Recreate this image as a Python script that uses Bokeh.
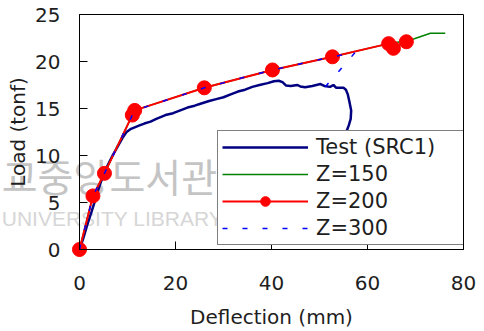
from bokeh.plotting import figure
from bokeh.models import Range1d, Legend, LegendItem, FixedTicker
from bokeh.core.properties import value
from bokeh.embed import file_html
from bokeh.resources import INLINE

# Measured load-deflection response of specimen SRC1
test_x = [0, 0.8, 1.6, 2.5, 3.3, 4.2, 5.0, 6.0, 7.0, 8.0, 9.0, 9.8, 10.6, 11.5,
          12.5, 13.5, 14.8, 16.0, 17.9, 19.5, 21.0, 22.5, 24.0, 25.2, 27.0, 28.5,
          30.0, 31.5, 33.0, 34.5, 36.0, 37.5, 39.2, 40.5, 41.5, 42.3, 43.0, 44.0,
          45.4, 46.0, 47.0, 48.5, 50.2, 51.0, 52.2, 52.9, 53.5, 55.0, 55.5, 55.9,
          56.2, 56.6, 56.5, 56.1, 55.5, 54.8, 54.2, 53.6]
test_y = [0, 1.2, 2.6, 4.0, 5.3, 6.8, 8.0, 9.1, 10.1, 11.0, 11.9, 12.5, 12.8, 13.0,
          13.2, 13.4, 13.6, 13.9, 14.3, 14.5, 14.8, 15.1, 15.3, 15.5, 15.8, 16.0,
          16.2, 16.5, 16.8, 17.0, 17.3, 17.5, 17.7, 17.9, 17.95, 17.8, 17.45, 17.4,
          17.5, 17.35, 17.25, 17.4, 17.6, 17.4, 17.3, 17.5, 17.2, 17.2, 17.0, 16.5,
          15.8, 14.8, 13.9, 13.2, 12.4, 11.6, 10.8, 10.0]

# Analytical curves for three values of Z
z150_x = [0, 2.8, 5.2, 11.0, 11.5, 26.0, 40.2, 52.7, 64.4, 68.1, 69.6, 73.1, 76.2]
z150_y = [0, 5.7, 8.1, 14.3, 14.8, 17.2, 19.1, 20.5, 21.9, 22.2, 22.4, 23.0, 23.0]

z200_x = [0, 2.8, 5.2, 11.0, 11.5, 26.0, 40.2, 52.7, 64.4, 65.4, 68.1]
z200_y = [0, 5.7, 8.1, 14.3, 14.8, 17.2, 19.1, 20.5, 21.9, 21.4, 22.1]

z300_x = [0, 2.8, 5.2, 11.0, 11.5, 26.0, 40.2, 52.7, 57.5, 50.5]
z300_y = [0, 5.7, 8.1, 14.3, 14.8, 17.2, 19.1, 20.5, 21.0, 16.9]

x_ticks = [0, 20, 40, 60, 80]
y_ticks = [0, 5, 10, 15, 20, 25]

FONT = "DejaVu Sans"
INK = "#1e1e1e"

p = figure(width=484, height=331, output_backend="svg", toolbar_location=None,
           x_range=Range1d(0, 80), y_range=Range1d(0, 25),
           min_border_left=79, min_border_right=21, min_border_top=14,
           min_border_bottom=82)

p.background_fill_color = "white"
p.border_fill_color = "white"
p.outline_line_color = "black"
p.outline_line_width = 1
p.xgrid.visible = False
p.ygrid.visible = False

# Library watermark; painted at guide level so it may run past the frame edge
p.text(x=[-16.2], y=[7.9], text=["교중앙도서관"], text_font=value("Noto Sans CJK KR"),
       text_font_size="39px", text_color="#c4c4c4", text_baseline="middle",
       level="guide")
p.text(x=[-16.2], y=[3.35], text=["UNIVERSITY  LIBRARY"], text_font=value("Liberation Sans"),
       text_font_size="21px", text_color="#d6d6d6", text_baseline="middle",
       level="guide")

r_test = p.line(test_x, test_y, line_color="#000080", line_width=2.5, level="annotation")
r_150 = p.line(z150_x, z150_y, line_color="#008000", line_width=1.5, level="annotation")
r_200l = p.line(z200_x, z200_y, line_color="#ff0000", line_width=2, level="annotation")
r_200m = p.scatter(z200_x, z200_y, size=14, fill_color="#ff0000", line_color="#ff0000",
                   level="annotation")
r_300 = p.line(z300_x, z300_y, line_color="#0000ff", line_width=1.5, line_dash="5 15",
               level="annotation")

for ax in (p.xaxis[0], p.yaxis[0]):
    ax.axis_line_color = "black"
    ax.major_tick_line_color = "black"
    ax.major_tick_in = 8
    ax.major_tick_out = 0
    ax.minor_tick_line_color = None
    ax.major_label_text_font = FONT
    ax.major_label_text_font_size = "20px"
    ax.major_label_text_color = INK
    ax.axis_label_text_font = FONT
    ax.axis_label_text_font_size = "20px"
    ax.axis_label_text_font_style = "normal"
    ax.axis_label_text_color = INK
    ax.level = "overlay"

p.xaxis.ticker = FixedTicker(ticks=x_ticks)
p.yaxis.ticker = FixedTicker(ticks=y_ticks)
p.xaxis.axis_label = "Deflection (mm)"
p.yaxis.axis_label = "Load (tonf)"
p.xaxis.major_label_standoff = 26
p.xaxis.axis_label_standoff = 12
p.yaxis.major_label_standoff = 19
p.yaxis.axis_label_standoff = 2

legend = Legend(items=[
    LegendItem(label="Test (SRC1)", renderers=[r_test]),
    LegendItem(label="Z=150", renderers=[r_150]),
    LegendItem(label="Z=200", renderers=[r_200l, r_200m]),
    LegendItem(label="Z=300", renderers=[r_300]),
], location=(138, 4), padding=4, spacing=3, margin=0,
   glyph_width=86, glyph_height=24, label_height=24, label_width=144,
   label_standoff=8, border_line_color="black", border_line_width=1,
   background_fill_color="white", background_fill_alpha=1.0,
   label_text_font=FONT, label_text_font_size="21px", label_text_color=INK,
   level="overlay")
p.add_layout(legend)

open("out.html", "w").write(file_html(p, INLINE))
